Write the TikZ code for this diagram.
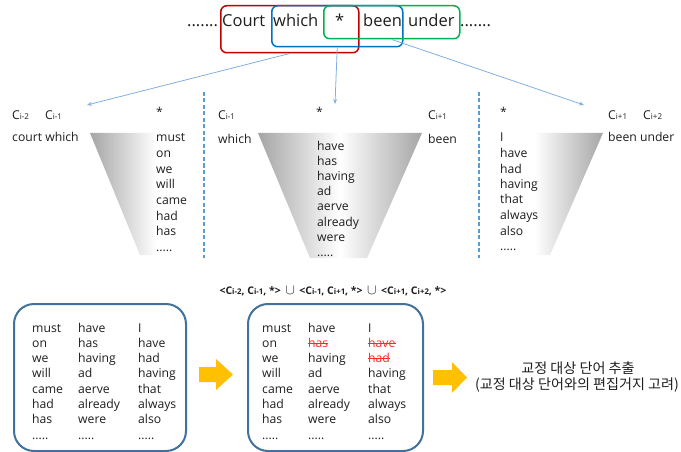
\documentclass[tikz,border=0pt]{standalone}
\usepackage{fontspec}
\setmainfont{Open Sans}
\newfontfamily\krfont{Noto Sans CJK KR}
\usetikzlibrary{arrows.meta}
\definecolor{txtc}{RGB}{30,30,30}
\definecolor{boxred}{RGB}{192,0,0}
\definecolor{boxblue}{RGB}{0,112,192}
\definecolor{boxgreen}{RGB}{0,176,80}
\definecolor{arrc}{RGB}{130,175,225}
\definecolor{dashc}{RGB}{91,155,213}
\definecolor{fgray}{RGB}{165,165,165}
\definecolor{boxc}{RGB}{65,113,156}
\definecolor{yel}{RGB}{255,192,0}
\definecolor{strk}{RGB}{255,40,40}
\newcommand{\Csb}[1]{C{\fontsize{8}{8}\selectfont #1}}
\newcommand{\Cfs}[1]{C{\fontsize{7.8}{8}\selectfont #1}}
\newcommand{\fivedots}{.....}
\begin{document}
\begin{tikzpicture}[x=1pt,y=-1pt,
  w/.style={inner sep=0pt, anchor=base west, font=\fontsize{12.2}{14}\selectfont, text=txtc},
  top/.style={inner sep=0pt, anchor=base west, font=\fontsize{16.5}{18}\selectfont, text=txtc},
  tbox/.style={inner sep=0pt, anchor=north west, rounded corners=6pt, line width=1.5pt},
  conn/.style={draw=arrc, line width=0.8pt, -{Stealth[length=5pt,width=4pt]}},
  dashline/.style={draw=dashc, line width=1.1pt, dash pattern=on 4pt off 2.5pt},
  bigbox/.style={draw=boxc, line width=2pt, rounded corners=20pt, inner sep=0pt, anchor=north west, minimum height=147pt},
  kr/.style={inner sep=0pt, anchor=base, font=\krfont\fontsize{14.1}{16}\selectfont, text=txtc}
]
\useasboundingbox (0,0) rectangle (681,452);

% top sentence
\node[top] (d1) at (187,27) {.......};
\node[top] (wcourt) at (222,27) {Court};
\node[top] (wwhich) at (273,27) {which};
\node[top] (wstar) at (335,27) {*};
\node[top] (wbeen) at (363,27) {been};
\node[top] (wunder) at (408,27) {under};
\node[top] (d2) at (460,27) {.......};

\node[tbox, draw=boxred, minimum width=138pt, minimum height=47pt] (rbox) at (220,5) {};
\node[tbox, draw=boxblue, minimum width=131pt, minimum height=41pt] (bbox) at (271,5) {};
\node[tbox, draw=boxgreen, minimum width=136pt, minimum height=33pt] (gbox) at (323,5) {};

\coordinate (t1) at (87,105);
\coordinate (t2) at (335,104);
\coordinate (t3) at (584,105);
\draw[conn] (rbox.south) -- (t1);
\draw[conn] (bbox.south) -- (t2);
\draw[conn] (gbox.south) -- (t3);

% dashed separators
\draw[dashline] (204,92) -- (204,258);
\draw[dashline] (479,92) -- (479,258);

% funnels
\shade[left color=fgray, right color=white] (90,133) -- (156,133) -- (156,255) -- (140,255) -- cycle;
\shade[left color=fgray, right color=fgray, middle color=white] (258,133) -- (422,133) -- (367,258) -- (310,258) -- cycle;
\shade[left color=white, right color=fgray] (535,133) -- (603,133) -- (550,255) -- (535,255) -- cycle;

% section 1
\node[w] (s1c1) at (12,120) {\Csb{i-2}};
\node[w] (s1c2) at (45,120) {\Csb{i-1}};
\node[w] (s1w) at (12,142) {court which};
\node[w] (s1s) at (156,117) {*};
\foreach \t [count=\i from 0] in {must,on,we,will,came,had,has,\fivedots}
  \node[w] (s1l\i) at (156,142+15.6*\i) {\t};

% section 2
\node[w] (s2c1) at (218,120) {\Csb{i-1}};
\node[w] (s2w) at (218,143) {which};
\node[w] (s2s) at (316,117) {*};
\node[w] (s2c2) at (428,120) {\Csb{i+1}};
\node[w] (s2b) at (428,143) {been};
\foreach \t [count=\i from 0] in {have,has,having,ad,aerve,already,were,\fivedots}
  \node[w] (s2l\i) at (317,150+15.2*\i) {\t};

% section 3
\node[w] (s3s) at (500,117) {*};
\node[w] (s3c1) at (608,120) {\Csb{i+1}};
\node[w] (s3c2) at (643,120) {\Csb{i+2}};
\node[w] (s3w) at (608,142) {been under};
\foreach \t [count=\i from 0] in {I,have,had,having,that,always,also,\fivedots}
  \node[w] (s3l\i) at (500,142+15.5*\i) {\t};

% formula
\node[inner sep=0pt, anchor=base, font=\bfseries\fontsize{10.5}{12}\selectfont, text=txtc] (form) at (333,294)
  {<\Cfs{i-2}, \Cfs{i-1}, *>\ \,{\Large$\cup$}\ \,<\Cfs{i-1}, \Cfs{i+1}, *>\ \,{\Large$\cup$}\ \,<\Cfs{i+1}, \Cfs{i+2}, *>};

% bottom boxes
\node[bigbox, minimum width=172pt] (lbox) at (13,303) {};
\node[bigbox, minimum width=175pt] (mbox) at (247,303) {};

\foreach \t [count=\i from 0] in {must,on,we,will,came,had,has,\fivedots}
  \node[w] (la\i) at (32,332+15.3*\i) {\t};
\foreach \t [count=\i from 0] in {have,has,having,ad,aerve,already,were,\fivedots}
  \node[w] (lb\i) at (78,332+15.3*\i) {\t};
\foreach \t [count=\i from 0] in {I,have,had,having,that,always,also,\fivedots}
  \node[w] (lc\i) at (138,332+15.3*\i) {\t};

\foreach \t [count=\i from 0] in {must,on,we,will,came,had,has,\fivedots}
  \node[w] (ma\i) at (262,332+15.3*\i) {\t};
\foreach \t/\c [count=\i from 0] in {have/txtc,has/strk,having/txtc,ad/txtc,aerve/txtc,already/txtc,were/txtc,\fivedots/txtc}
  \node[w, text=\c] (mb\i) at (308,332+15.3*\i) {\t};
\foreach \t/\c [count=\i from 0] in {I/txtc,have/strk,had/strk,having/txtc,that/txtc,always/txtc,also/txtc,\fivedots/txtc}
  \node[w, text=\c] (mc\i) at (368,332+15.3*\i) {\t};
\draw[strk, line width=0.8pt] ([yshift=4pt]mb1.base west) -- ([yshift=4pt]mb1.base east);
\draw[strk, line width=0.8pt] ([yshift=4pt]mc1.base west) -- ([yshift=4pt]mc1.base east);
\draw[strk, line width=0.8pt] ([yshift=4pt]mc2.base west) -- ([yshift=4pt]mc2.base east);

% yellow arrows
\fill[yel] (199,367) -- (216,367) -- (216,359) -- (233,374.5) -- (216,390) -- (216,382) -- (199,382) -- cycle;
\fill[yel] (433,370) -- (452,370) -- (452,362) -- (467,377.5) -- (452,393) -- (452,385) -- (433,385) -- cycle;

% Korean text
\node[kr] (k1) at (578,373) {교정 대상 단어 추출};
\node[kr] (k2) at (577,389) {(교정 대상 단어와의 편집거지 고려)};
\end{tikzpicture}
\end{document}
